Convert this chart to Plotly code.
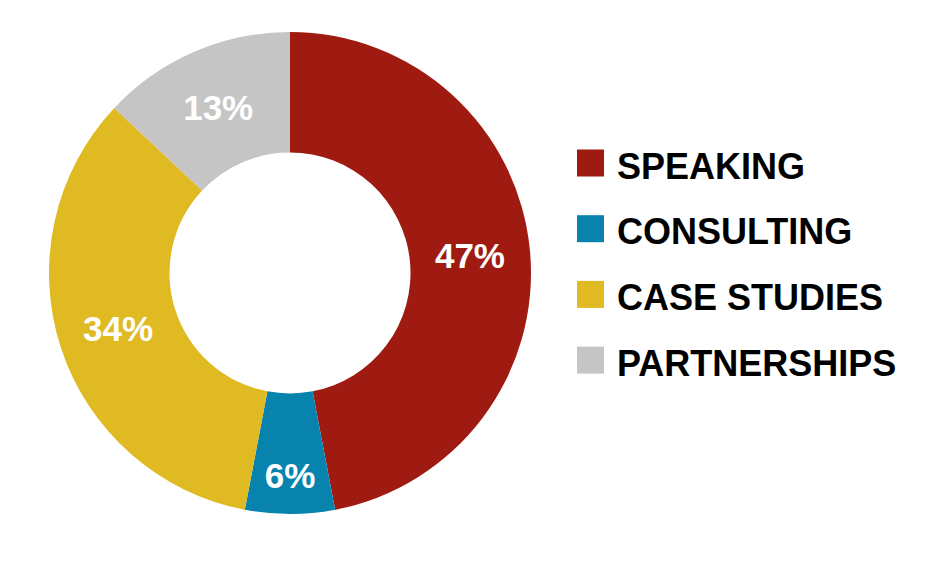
import plotly.graph_objects as go

categories = ["SPEAKING", "CONSULTING", "CASE STUDIES", "PARTNERSHIPS"]
values = [47, 6, 34, 13]
colors = ["#9F1A11", "#0783AE", "#DFBA23", "#C5C5C5"]

W, H = 938, 568
cx, cy, r = 290, 273, 241

fig = go.Figure(go.Pie(
    labels=categories,
    values=values,
    hole=0.5,
    sort=False,
    direction="clockwise",
    rotation=0,
    marker=dict(colors=colors, line=dict(width=0)),
    textinfo="percent",
    texttemplate="%{percent:.0%}",
    textposition="inside",
    insidetextorientation="horizontal",
    textfont=dict(family="Liberation Sans, Arial, sans-serif", size=35, color="white", weight="bold"),
    showlegend=False,
    hoverinfo="label+percent",
    domain=dict(x=[(cx - r) / W, (cx + r) / W], y=[(H - cy - r) / H, (H - cy + r) / H]),
))

# custom legend built from the category/colour lists
shapes = []
annotations = []
sq = 27
x0 = 577
y_first = 163
step = 65.7
for i, (cat, col) in enumerate(zip(categories, colors)):
    yc = y_first + i * step
    shapes.append(dict(type="rect", xref="paper", yref="paper",
                       x0=x0 / W, x1=(x0 + sq) / W,
                       y0=(H - yc - sq / 2) / H, y1=(H - yc + sq / 2) / H,
                       fillcolor=col, line=dict(width=0)))
    annotations.append(dict(text=cat, xref="paper", yref="paper",
                            x=615 / W, y=(H - yc - 3) / H,
                            xanchor="left", yanchor="middle", showarrow=False,
                            font=dict(family="Liberation Sans, Arial, sans-serif", size=36,
                                      color="#000000", weight="bold")))

fig.update_layout(
    width=W, height=H,
    margin=dict(l=0, r=0, t=0, b=0),
    paper_bgcolor="white",
    plot_bgcolor="white",
    shapes=shapes,
    annotations=annotations,
)

fig.write_html("out.html", config={"displayModeBar": False},
               post_script="document.body.style.margin='0';")
